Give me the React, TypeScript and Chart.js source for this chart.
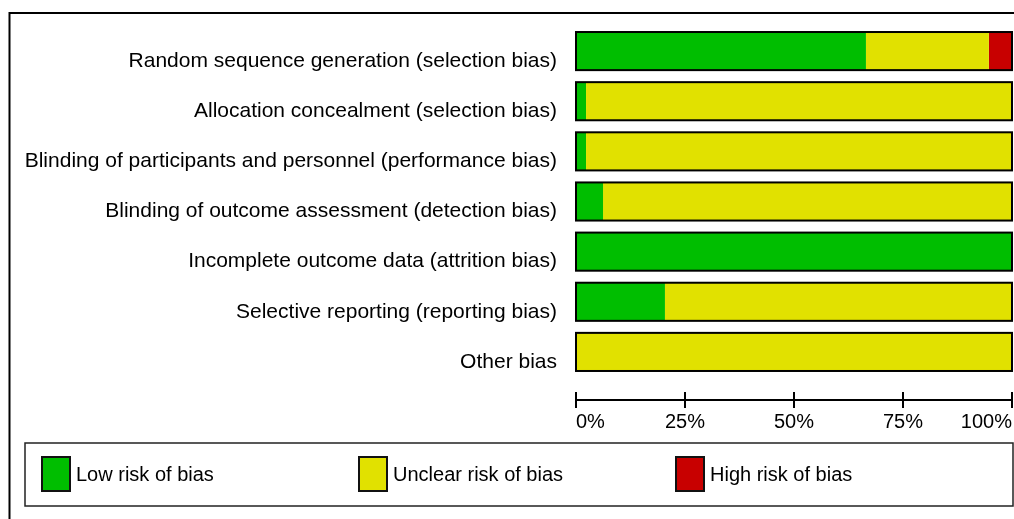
import React, { useEffect, useRef } from 'react';
import { Chart, registerables } from 'chart.js';

Chart.register(...registerables);

const domains = [
  'Random sequence generation (selection bias)',
  'Allocation concealment (selection bias)',
  'Blinding of participants and personnel (performance bias)',
  'Blinding of outcome assessment (detection bias)',
  'Incomplete outcome data (attrition bias)',
  'Selective reporting (reporting bias)',
  'Other bias',
];
const lowRisk = [66.5, 2.3, 2.3, 6.2, 100, 20.4, 0];
const unclearRisk = [28.2, 97.7, 97.7, 93.8, 0, 79.6, 100];
const highRisk = [5.3, 0, 0, 0, 0, 0, 0];
const seriesLabels = ['Low risk of bias', 'Unclear risk of bias', 'High risk of bias'];
const seriesColors = ['#00BE00', '#E1E100', '#C80000'];
const tickStep = 25;

const FONT = '"Liberation Sans", Arial, sans-serif';

const decorPlugin = {
  id: 'decor',
  afterDatasetsDraw(chart: any) {
    const ctx = chart.ctx;
    const xs = chart.scales.x;
    const meta = chart.getDatasetMeta(0);
    const x0 = xs.getPixelForValue(0);
    const x1 = xs.getPixelForValue(100);
    ctx.save();
    ctx.strokeStyle = '#000';
    ctx.lineWidth = 2;
    meta.data.forEach((el: any) => {
      const h = el.height;
      ctx.strokeRect(x0, el.y - h / 2, x1 - x0, h);
    });
    ctx.restore();
  },
  afterDraw(chart: any) {
    const ctx = chart.ctx;
    const xs = chart.scales.x;
    const area = chart.chartArea;
    ctx.save();
    // outer frame (top and left)
    ctx.strokeStyle = '#000';
    ctx.lineWidth = 2;
    ctx.beginPath();
    ctx.moveTo(9.5, 520);
    ctx.lineTo(9.5, 13);
    ctx.lineTo(1014, 13);
    ctx.stroke();

    // axis line with ticks
    const ay = area.bottom + 23;
    const x0 = xs.getPixelForValue(0);
    const x1 = xs.getPixelForValue(100);
    ctx.beginPath();
    ctx.moveTo(x0, ay);
    ctx.lineTo(x1, ay);
    xs.ticks.forEach((t: any) => {
      const px = xs.getPixelForValue(t.value);
      ctx.moveTo(px, ay - 8);
      ctx.lineTo(px, ay + 8);
    });
    ctx.stroke();

    // legend box
    const lx = 25, ly = 443, lw = 988, lh = 63;
    ctx.lineWidth = 1.5;
    ctx.strokeStyle = '#222';
    ctx.strokeRect(lx, ly, lw, lh);
    ctx.font = `20px ${FONT}`;
    ctx.textBaseline = 'middle';
    ctx.textAlign = 'left';
    chart.data.datasets.forEach((ds: any, i: number) => {
      const sx = lx + 17 + i * 317;
      const sy = ly + 14;
      ctx.fillStyle = ds.backgroundColor;
      ctx.fillRect(sx, sy, 28, 34);
      ctx.lineWidth = 2;
      ctx.strokeStyle = '#111';
      ctx.strokeRect(sx, sy, 28, 34);
      ctx.fillStyle = '#000';
      ctx.fillText(ds.label, sx + 34, sy + 18);
    });
    ctx.restore();
  },
};

export default function App() {
  const ref = useRef<HTMLCanvasElement | null>(null);
  useEffect(() => {
    if (!ref.current) return;
    const chart = new Chart(ref.current, {
      type: 'bar',
      data: {
        labels: domains,
        datasets: [lowRisk, unclearRisk, highRisk].map((d, i) => ({
          label: seriesLabels[i],
          data: d,
          backgroundColor: seriesColors[i],
          borderWidth: 0,
          barPercentage: 0.76,
          categoryPercentage: 1,
        })),
      },
      options: {
        indexAxis: 'y',
        animation: false,
        responsive: true,
        maintainAspectRatio: false,
        layout: { padding: { top: 26, bottom: 82, left: 0, right: 2 } },
        plugins: { legend: { display: false }, tooltip: { enabled: false } },
        scales: {
          x: {
            stacked: true,
            min: 0,
            max: 100,
            grid: { display: false, drawTicks: false },
            border: { display: false },
            ticks: {
              stepSize: tickStep,
              align: 'inner',
              padding: 33,
              color: '#000',
              font: { family: FONT, size: 20 },
              callback: (v: any) => `${v}%`,
            },
            afterFit: (s: any) => {
              s.height = 60;
              s.paddingLeft = 0;
              s.paddingRight = 0;
            },
          },
          y: {
            stacked: true,
            grid: { display: false, drawTicks: false },
            border: { display: false },
            ticks: {
              padding: 19,
              labelOffset: 10,
              color: '#000',
              font: { family: FONT, size: 21 },
            },
            afterFit: (s: any) => {
              s.width = 576;
              s.paddingTop = 0;
              s.paddingBottom = 0;
            },
          },
        },
      },
      plugins: [decorPlugin],
    } as any);
    return () => chart.destroy();
  }, []);
  return (
    <div style={{ position: 'absolute', left: 0, top: 0, width: 1014, height: 519, background: '#fff' }}>
      <canvas ref={ref} />
    </div>
  );
}
